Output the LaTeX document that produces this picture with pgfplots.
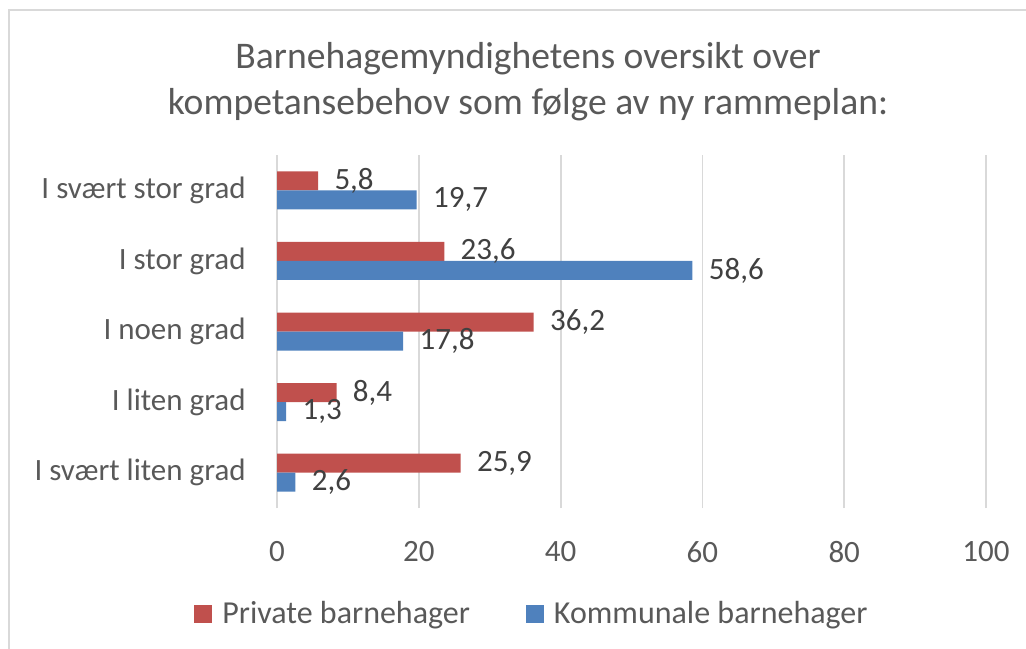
\documentclass[border=0pt]{standalone}
\usepackage{pgfplots}
\pgfplotsset{compat=1.18}
\usepackage{fontspec}
\setmainfont{Carlito}
\definecolor{priv}{HTML}{C0504D}
\definecolor{komm}{HTML}{4F81BD}
\definecolor{txt}{HTML}{595959}
\definecolor{lbl}{HTML}{404040}
\definecolor{grid}{HTML}{D9D9D9}
\begin{document}
\begin{tikzpicture}
\path[use as bounding box] (0pt,0pt) rectangle (513pt,-324pt);
\draw[grid, line width=0.8pt] (4.5pt,-330pt) -- (4.5pt,-5pt) -- (520pt,-5pt);
\node[txt, anchor=base, font=\fontsize{18.8}{22}\selectfont] at (264pt,-34pt) {Barnehagemyndighetens oversikt over};
\node[txt, anchor=base, font=\fontsize{18.8}{22}\selectfont] at (264pt,-57pt) {kompetansebehov som følge av ny rammeplan:};
\begin{axis}[
  at={(138.5pt,-254pt)}, anchor=south west,
  scale only axis, width=354.5pt, height=176.5pt,
  xbar, bar width=9.5pt,
  xmin=0, xmax=100, ymin=0.5, ymax=5.5,
  xtick={0,20,...,100},
  ytick={1,2,3,4,5},
  yticklabels={I svært liten grad, I liten grad, I noen grad, I stor grad, I svært stor grad},
  major tick length=0pt,
  xmajorgrids=true, ymajorgrids=false, yminorgrids=false, xminorgrids=false,
  major x grid style={grid, line width=0.9pt},
  axis line style={draw=none},
  /pgf/number format/assume math mode=true,
  tick label style={txt, font=\fontsize{15.5}{18}\selectfont},
  yticklabel style={anchor=east, inner sep=0pt, xshift=-15.5pt},
  xticklabel style={anchor=north, inner sep=0pt, yshift=-16.5pt},
  nodes near coords,
  nodes near coords style={lbl, font=\fontsize{15.5}{18}\selectfont, anchor=west, inner sep=0pt, xshift=8pt,
    /pgf/number format/.cd, fixed, fixed zerofill, precision=1, use comma, assume math mode=true},
  legend style={at={(0.361,-0.3)}, anchor=center, draw=none, fill=none,
    font=\fontsize{16}{18}\selectfont, text=txt, inner sep=0pt,
    /tikz/every odd column/.append style={column sep=3pt},
    /tikz/every even column/.append style={column sep=26pt}},
  legend columns=2,
  legend image code/.code={\fill[#1] (0pt,-4.5pt) rectangle (9pt,4.5pt);},
]
\draw[grid, line width=0.9pt] (axis cs:0,0.5) -- (axis cs:0,5.5);
\addplot[fill=priv, draw=none, bar shift=4.75pt] coordinates {(25.9,1) (8.4,2) (36.2,3) (23.6,4) (5.8,5)};
\addplot[fill=komm, draw=none, bar shift=-4.75pt] coordinates {(2.6,1) (1.3,2) (17.8,3) (58.6,4) (19.7,5)};
\legend{Private barnehager, Kommunale barnehager}
\end{axis}
\end{tikzpicture}
\end{document}
